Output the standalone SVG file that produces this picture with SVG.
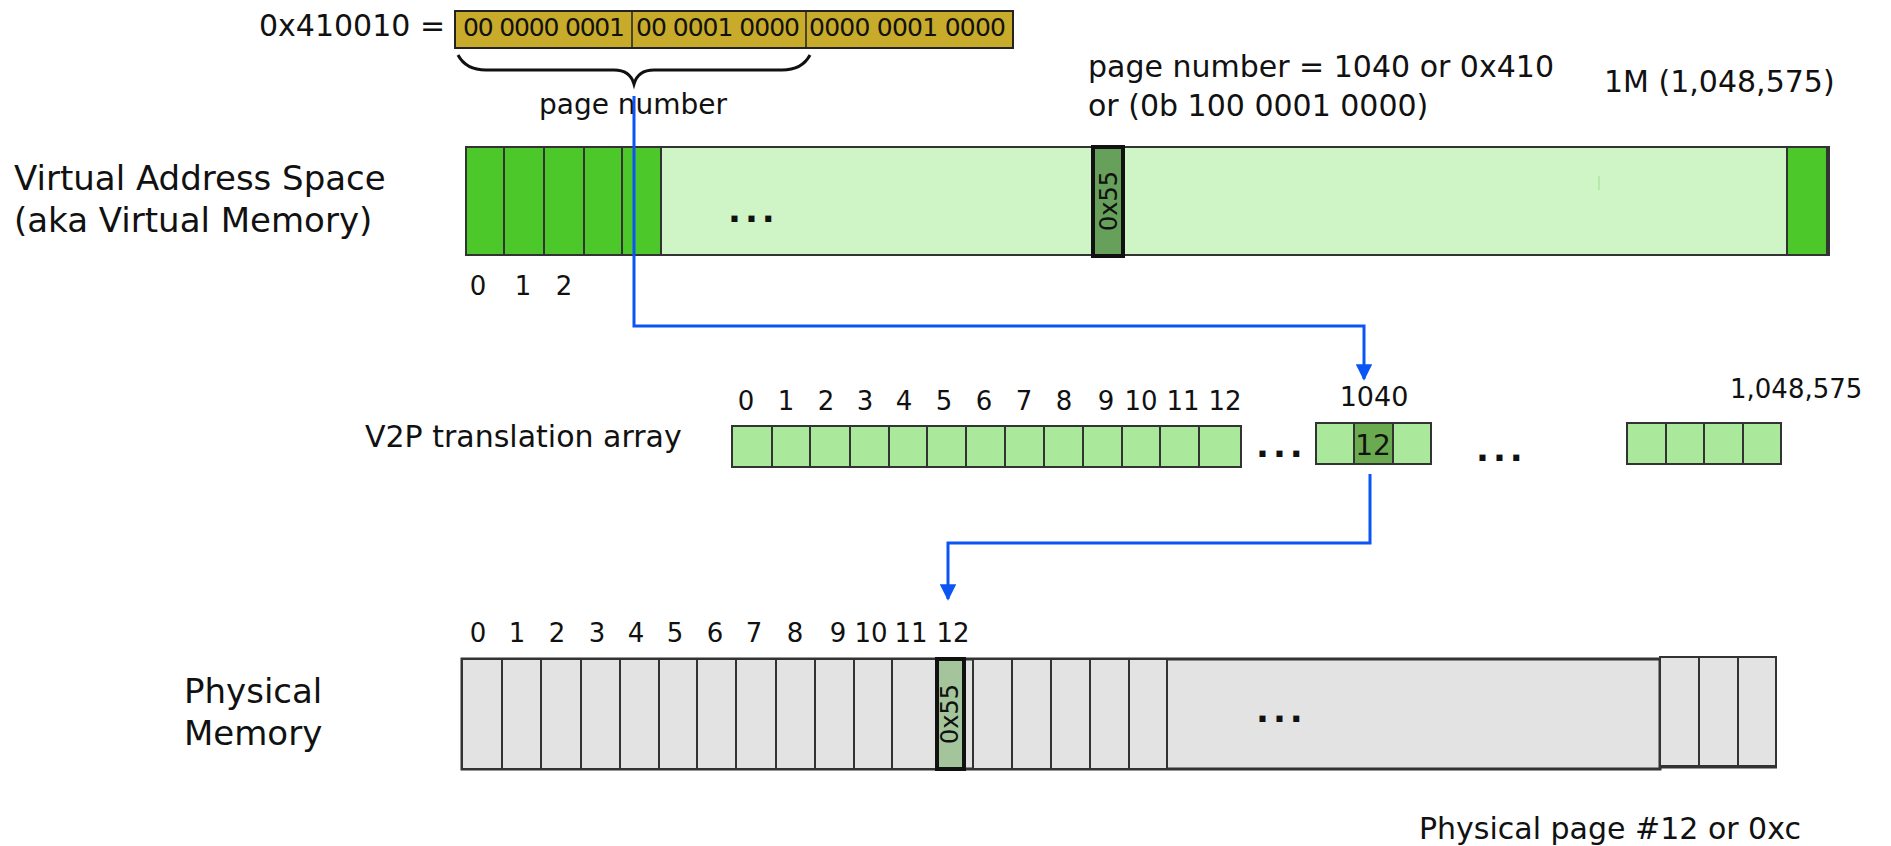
<svg xmlns="http://www.w3.org/2000/svg" width="1891" height="846" viewBox="0 0 1891 846">
<defs>
<style>
text{font-family:"DejaVu Sans","Liberation Sans",sans-serif;fill:#111}
.big{font-size:34px}
.mid{font-size:30px}
.idx{font-size:26px}
.bin{font-size:25px}
.rot{font-size:24px}
.dots{font-size:34px;font-weight:bold;letter-spacing:4px}
.cell{stroke:#333;stroke-width:2}
.dg{fill:#4dc82b}
.lg{fill:#cff4c6}
.v2p{fill:#aae99b}
.pm{fill:#e3e3e3}
.conn{fill:none;stroke:#0b55f5;stroke-width:3}
</style>
<marker id="ah" viewBox="0 0 10 10" refX="9" refY="5" markerWidth="5.5" markerHeight="5.5" orient="auto" markerUnits="strokeWidth">
<path d="M0,0 L10,5 L0,10 z" fill="#0b55f5"/>
</marker>
</defs>
<rect width="1891" height="846" fill="#fff"/>

<g id="address">
<text class="mid" x="259" y="36">0x410010 =</text>
<rect x="455" y="11" width="558" height="37" fill="#c8ab2a" stroke="#222" stroke-width="2"/>
<line x1="632" y1="11" x2="632" y2="48" stroke="#222" stroke-width="1.5"/>
<line x1="806" y1="11" x2="806" y2="48" stroke="#222" stroke-width="1.5"/>
<text class="bin" x="463" y="36" textLength="162">00 0000 0001</text>
<text class="bin" x="636" y="36" textLength="164">00 0001 0000</text>
<text class="bin" x="809" y="36" textLength="197">0000 0001 0000</text>
<path d="M458,55 Q466,70 486,70 L614,70 Q630,70 634,84 Q638,70 654,70 L782,70 Q802,70 810,55" fill="none" stroke="#111" stroke-width="3"/>
<text x="539" y="114" style="font-size:28px">page number</text>
</g>

<g id="vas-label">
<text class="big" x="14" y="190">Virtual Address Space</text>
<text class="big" x="14" y="232">(aka Virtual Memory)</text>
</g>

<g id="vas">
<rect class="lg" x="466" y="147" width="1363" height="108" stroke="#333" stroke-width="2"/>
<rect class="dg cell" x="466" y="147" width="38" height="108"/>
<rect class="dg cell" x="504" y="147" width="40" height="108"/>
<rect class="dg cell" x="544" y="147" width="40" height="108"/>
<rect class="dg cell" x="584" y="147" width="38" height="108"/>
<rect class="dg cell" x="622" y="147" width="39" height="108"/>
<rect class="dg cell" x="1787" y="147" width="40" height="108"/>
<rect x="1093" y="147" width="30" height="109" fill="#67a05a" stroke="#111" stroke-width="4"/>
<text class="rot" transform="translate(1117,201) rotate(-90)" text-anchor="middle">0x55</text>
<text class="dots" x="728" y="222">...</text>
<line x1="1599" y1="176" x2="1599" y2="190" stroke="#9ce08a" stroke-width="1"/>
<text class="idx" x="478" y="295" text-anchor="middle">0</text>
<text class="idx" x="523" y="295" text-anchor="middle">1</text>
<text class="idx" x="564" y="295" text-anchor="middle">2</text>
</g>

<g id="vas-notes">
<text class="mid" x="1088" y="77">page number = 1040 or 0x410</text>
<text class="mid" x="1088" y="116">or (0b 100 0001 0000)</text>
<text class="mid" x="1604" y="92">1M (1,048,575)</text>
</g>

<g id="v2p-label">
<text class="mid" x="365" y="447">V2P translation array</text>
</g>

<g id="v2p">
<rect class="v2p cell" x="732" y="426" width="40" height="41"/>
<rect class="v2p cell" x="772" y="426" width="38" height="41"/>
<rect class="v2p cell" x="810" y="426" width="40" height="41"/>
<rect class="v2p cell" x="850" y="426" width="39" height="41"/>
<rect class="v2p cell" x="889" y="426" width="38" height="41"/>
<rect class="v2p cell" x="927" y="426" width="39" height="41"/>
<rect class="v2p cell" x="966" y="426" width="39" height="41"/>
<rect class="v2p cell" x="1005" y="426" width="39" height="41"/>
<rect class="v2p cell" x="1044" y="426" width="39" height="41"/>
<rect class="v2p cell" x="1083" y="426" width="39" height="41"/>
<rect class="v2p cell" x="1122" y="426" width="38" height="41"/>
<rect class="v2p cell" x="1160" y="426" width="39" height="41"/>
<rect class="v2p cell" x="1199" y="426" width="42" height="41"/>
<text class="idx" x="746" y="410" text-anchor="middle">0</text>
<text class="idx" x="786" y="410" text-anchor="middle">1</text>
<text class="idx" x="826" y="410" text-anchor="middle">2</text>
<text class="idx" x="865" y="410" text-anchor="middle">3</text>
<text class="idx" x="904" y="410" text-anchor="middle">4</text>
<text class="idx" x="944" y="410" text-anchor="middle">5</text>
<text class="idx" x="984" y="410" text-anchor="middle">6</text>
<text class="idx" x="1024" y="410" text-anchor="middle">7</text>
<text class="idx" x="1064" y="410" text-anchor="middle">8</text>
<text class="idx" x="1106" y="410" text-anchor="middle">9</text>
<text class="idx" x="1141" y="410" text-anchor="middle">10</text>
<text class="idx" x="1183" y="410" text-anchor="middle">11</text>
<text class="idx" x="1225" y="410" text-anchor="middle">12</text>
<text class="dots" x="1256" y="457">...</text>
<rect class="v2p cell" x="1316" y="423" width="38" height="41"/>
<rect class="cell" x="1354" y="423" width="39" height="41" fill="#6aaa50"/>
<rect class="v2p cell" x="1393" y="423" width="38" height="41"/>
<text x="1373" y="455" text-anchor="middle" style="font-size:28px">12</text>
<text x="1374" y="406" text-anchor="middle" style="font-size:27px">1040</text>
<text class="dots" x="1476" y="461">...</text>
<rect class="v2p cell" x="1627" y="423" width="39" height="41"/>
<rect class="v2p cell" x="1666" y="423" width="38" height="41"/>
<rect class="v2p cell" x="1704" y="423" width="39" height="41"/>
<rect class="v2p cell" x="1743" y="423" width="38" height="41"/>
<text class="idx" x="1730" y="398">1,048,575</text>
</g>

<g id="pm-label">
<text class="big" x="184" y="703">Physical</text>
<text class="big" x="184" y="745">Memory</text>
</g>

<g id="pm">
<rect class="pm" x="462" y="659" width="1198" height="110" stroke="#333" stroke-width="3"/>
<rect class="pm cell" x="462" y="659" width="40" height="110"/>
<rect class="pm cell" x="502" y="659" width="39" height="110"/>
<rect class="pm cell" x="541" y="659" width="40" height="110"/>
<rect class="pm cell" x="581" y="659" width="39" height="110"/>
<rect class="pm cell" x="620" y="659" width="39" height="110"/>
<rect class="pm cell" x="659" y="659" width="38" height="110"/>
<rect class="pm cell" x="697" y="659" width="39" height="110"/>
<rect class="pm cell" x="736" y="659" width="40" height="110"/>
<rect class="pm cell" x="776" y="659" width="39" height="110"/>
<rect class="pm cell" x="815" y="659" width="39" height="110"/>
<rect class="pm cell" x="854" y="659" width="38" height="110"/>
<rect class="pm cell" x="892" y="659" width="44" height="110"/>
<rect class="pm cell" x="973" y="659" width="39" height="110"/>
<rect class="pm cell" x="1012" y="659" width="39" height="110"/>
<rect class="pm cell" x="1051" y="659" width="39" height="110"/>
<rect class="pm cell" x="1090" y="659" width="39" height="110"/>
<rect class="pm cell" x="1129" y="659" width="38" height="110"/>
<rect x="937" y="659" width="27" height="110" fill="#a4c59c" stroke="#111" stroke-width="4"/>
<text class="rot" transform="translate(958,714) rotate(-90)" text-anchor="middle">0x55</text>
<text class="dots" x="1256" y="722">...</text>
<rect class="pm cell" x="1660" y="657" width="39" height="109"/>
<rect class="pm cell" x="1699" y="657" width="39" height="109"/>
<rect class="pm cell" x="1738" y="657" width="38" height="109"/>
<line x1="1660" y1="767" x2="1777" y2="767" stroke="#333" stroke-width="3"/>
<text class="idx" x="478" y="642" text-anchor="middle">0</text>
<text class="idx" x="517" y="642" text-anchor="middle">1</text>
<text class="idx" x="557" y="642" text-anchor="middle">2</text>
<text class="idx" x="597" y="642" text-anchor="middle">3</text>
<text class="idx" x="636" y="642" text-anchor="middle">4</text>
<text class="idx" x="675" y="642" text-anchor="middle">5</text>
<text class="idx" x="715" y="642" text-anchor="middle">6</text>
<text class="idx" x="754" y="642" text-anchor="middle">7</text>
<text class="idx" x="795" y="642" text-anchor="middle">8</text>
<text class="idx" x="838" y="642" text-anchor="middle">9</text>
<text class="idx" x="871" y="642" text-anchor="middle">10</text>
<text class="idx" x="911" y="642" text-anchor="middle">11</text>
<text class="idx" x="953" y="642" text-anchor="middle">12</text>
</g>

<g id="pm-note">
<text class="mid" x="1419" y="839">Physical page #12 or 0xc</text>
</g>

<g id="connectors">
<path class="conn" d="M634,96 L634,326 L1364,326 L1364,379" marker-end="url(#ah)"/>
<path class="conn" d="M1370,474 L1370,543 L948,543 L948,599" marker-end="url(#ah)"/>
</g>
</svg>
